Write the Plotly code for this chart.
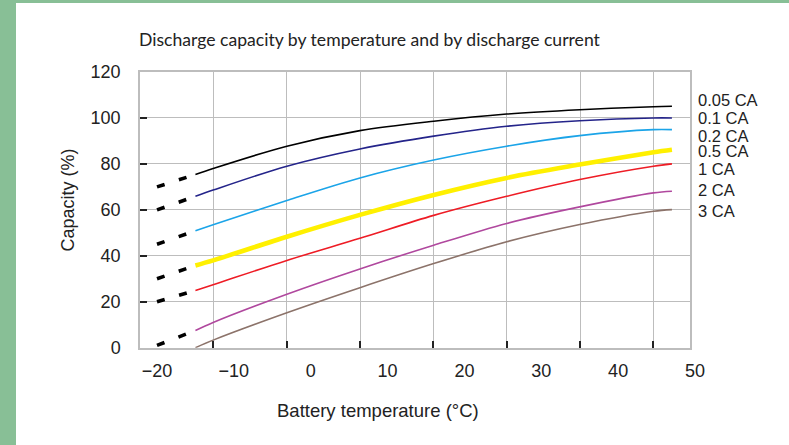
import plotly.graph_objects as go

# ---------------- data ----------------
temps = [-15, -12.7, -3.1, 6.4, 16, 25.5, 35, 44.6, 47]
cap_005 = [75.4, 78.0, 87.7, 94.5, 98.6, 101.7, 103.6, 104.9, 105.1]
cap_01 = [65.9, 68.6, 79.0, 86.5, 92.1, 96.4, 98.8, 100.0, 100.0]
cap_02 = [50.9, 53.5, 64.1, 73.9, 81.7, 87.7, 92.3, 94.9, 94.9]
cap_05 = [35.8, 38.0, 48.3, 57.8, 66.5, 73.9, 79.7, 85.1, 86.2]
cap_1 = [24.9, 27.4, 38.0, 47.6, 57.6, 65.9, 73.2, 79.0, 80.0]
cap_2 = [7.5, 11.0, 23.3, 34.3, 44.6, 54.1, 61.3, 67.4, 68.1]
cap_3 = [0.0, 3.3, 15.2, 26.1, 36.6, 46.1, 53.6, 59.4, 60.1]

currents = ["0.05 CA", "0.1 CA", "0.2 CA", "0.5 CA", "1 CA", "2 CA", "3 CA"]
# extrapolated (dashed) values at -20 °C; None = no extension
cap_at_minus20 = [70, 60, 45, 30, 20, 1, None]
dash_temp = -20

x_ticks = [-20, -10, 0, 10, 20, 30, 40, 50]
y_ticks = [0, 20, 40, 60, 80, 100, 120]

series = [cap_005, cap_01, cap_02, cap_05, cap_1, cap_2, cap_3]

# ---------------- styles / layout constants ----------------
colors = ["#000000", "#24248a", "#1ba4e8", "#fff000", "#ee1c25", "#b0489e", "#8c736a"]
widths = [1.6, 1.6, 1.6, 4.6, 1.6, 1.6, 1.6]
label_y = [107.6, 99.8, 92.0, 85.5, 77.6, 68.5, 59.4]

W, H = 789, 445
def fx(px):
    return px / W
def fy(py):
    return 1 - py / H

PX_L, PX_R, PY_T, PY_B = 140, 690, 72, 347.7
DATA_R = 700
# data axis: -20 label at 157 px, 50 label at 695 px
ppd = (695 - 157) / 70.0
xr0 = -20 - (157 - PX_L) / ppd
xr1 = 50 + (DATA_R - 695) / ppd

TICK_FONT = dict(family="Liberation Sans, Arial, sans-serif", size=18, color="#222222")

fig = go.Figure()

# frame/grid subplot needs a (empty) trace so that it is drawn
fig.add_trace(go.Scatter(x=[None], y=[None], xaxis="x", yaxis="y",
                         showlegend=False, hoverinfo="skip"))

for name, vals, c, w, v20 in zip(currents, series, colors, widths, cap_at_minus20):
    fig.add_trace(go.Scatter(
        x=temps, y=vals, mode="lines", name=name,
        line=dict(color=c, width=w, shape="spline", smoothing=0.9),
        xaxis="x2", yaxis="y2", showlegend=False,
    ))
    if v20 is not None:
        fig.add_trace(go.Scatter(
            x=[dash_temp, temps[0]], y=[v20, vals[0]], mode="lines",
            line=dict(color="#000000", width=3.6, dash="8px,15px"),
            xaxis="x2", yaxis="y2", showlegend=False, hoverinfo="skip",
        ))

annotations = []
for name, ly in zip(currents, label_y):
    annotations.append(dict(
        text=name, xref="paper", yref="y2", x=fx(696), y=ly,
        xanchor="left", yanchor="middle", showarrow=False,
        font=dict(family="Liberation Sans, Arial, sans-serif", size=16.5, color="#222222"),
    ))
annotations.append(dict(
    text="Battery temperature (°C)", xref="paper", yref="paper",
    x=fx(378), y=fy(410), xanchor="center", yanchor="middle", showarrow=False,
    font=dict(family="Liberation Sans, Arial, sans-serif", size=18.5, color="#222222"),
))
annotations.append(dict(
    text="Capacity (%)", xref="paper", yref="paper", textangle=-90,
    x=fx(67.5), y=fy(200), xanchor="center", yanchor="middle", showarrow=False,
    font=dict(family="Liberation Sans, Arial, sans-serif", size=18, color="#222222"),
))

GRID = "#bdbdbd"
fig.update_layout(
    width=W, height=H,
    margin=dict(l=0, r=0, t=0, b=0, autoexpand=False),
    paper_bgcolor="#ffffff",
    plot_bgcolor="rgba(0,0,0,0)",
    showlegend=False,
    title=dict(
        text="Discharge capacity by temperature and by discharge current",
        xref="container", yref="container", x=fx(139), y=fy(40),
        xanchor="left", yanchor="middle",
        font=dict(family="Lato, sans-serif", size=17.6, color="#222222"),
    ),
    # frame + grid subplot
    xaxis=dict(
        domain=[fx(PX_L), fx(PX_R)], range=[0, 7.5], tickvals=[0, 1, 2, 3, 4, 5, 6, 7],
        showgrid=True, gridcolor=GRID, gridwidth=1.2, zeroline=False,
        showline=True, linecolor=GRID, linewidth=1.5, mirror=True,
        ticks="inside", ticklen=7, tickcolor="#222222", tickwidth=1.5,
        showticklabels=False, anchor="y", fixedrange=True, automargin=False,
    ),
    yaxis=dict(
        domain=[fy(PY_B), fy(PY_T)], range=[0, 120], tickvals=y_ticks,
        showgrid=True, gridcolor=GRID, gridwidth=1.2, zeroline=False,
        showline=True, linecolor=GRID, linewidth=1.5, mirror=True,
        ticks="inside", ticklen=7, tickcolor="#222222", tickwidth=1.5,
        tickfont=TICK_FONT, ticklabelstandoff=14, anchor="x", fixedrange=True,
        automargin=False,
    ),
    # data subplot
    xaxis2=dict(
        domain=[fx(PX_L), fx(DATA_R)], range=[xr0, xr1], tickvals=x_ticks,
        showgrid=False, zeroline=False, showline=False, ticks="",
        tickfont=TICK_FONT, ticklabelstandoff=10, anchor="y2", fixedrange=True,
        automargin=False,
    ),
    yaxis2=dict(
        domain=[fy(PY_B), fy(PY_T)], range=[0, 120],
        showgrid=False, zeroline=False, showline=False, ticks="",
        showticklabels=False, anchor="x2", fixedrange=True, automargin=False,
    ),
    annotations=annotations,
    shapes=[
        dict(type="rect", xref="paper", yref="paper", x0=0, x1=fx(16), y0=0, y1=1,
             fillcolor="#88bf96", line=dict(width=0), layer="below"),
        dict(type="rect", xref="paper", yref="paper", x0=0, x1=1, y0=fy(3), y1=1,
             fillcolor="#88bf96", line=dict(width=0), layer="below"),
    ],
)

fig.write_html("out.html")
